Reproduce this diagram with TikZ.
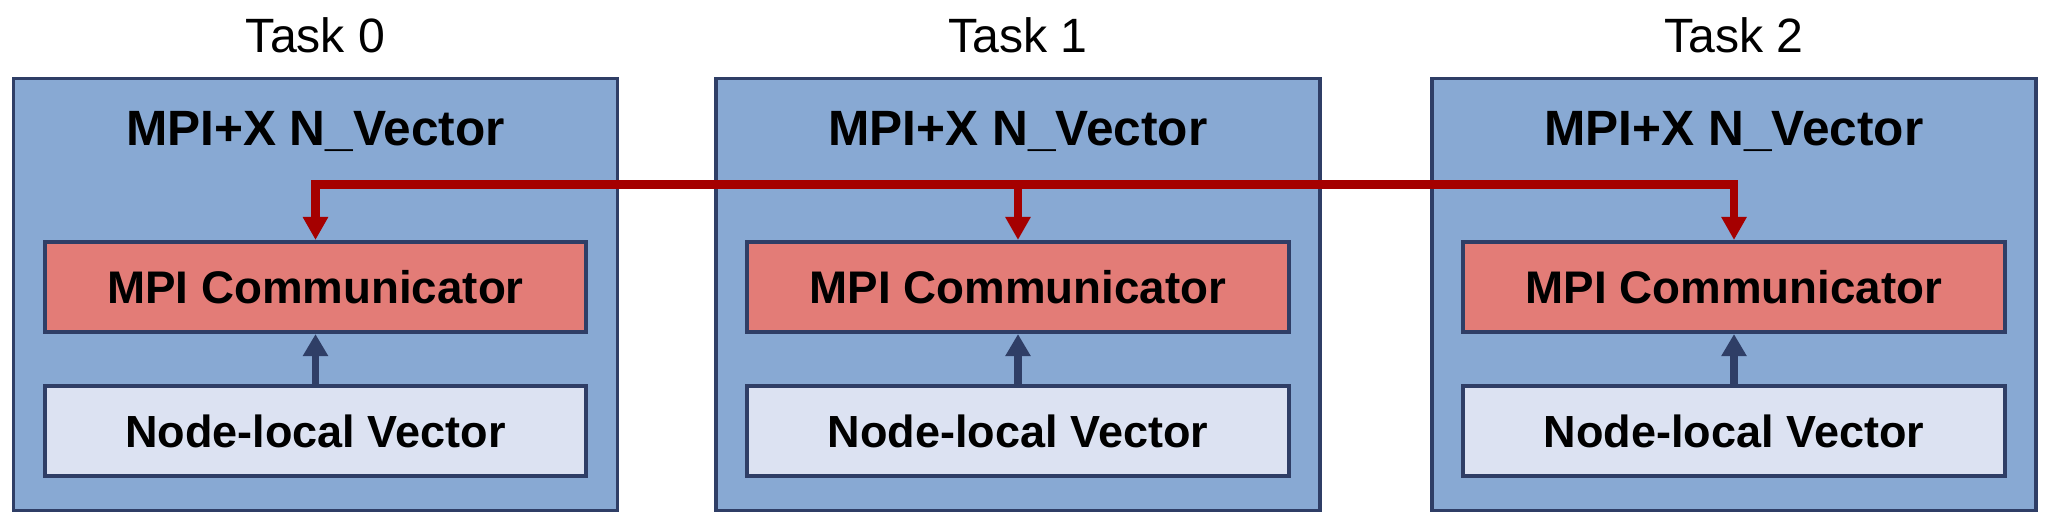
\documentclass[tikz,border=0pt]{standalone}
\usepackage{fontspec}
\setmainfont{Liberation Sans}
\usetikzlibrary{positioning}
\usetikzlibrary{arrows.meta}

\definecolor{taskblue}{HTML}{88A9D3}
\definecolor{navyline}{HTML}{2F3E66}
\definecolor{commred}{HTML}{E37C77}
\definecolor{localpale}{HTML}{DCE2F2}
\definecolor{busred}{HTML}{A50000}

\tikzset{
    taskbox/.style={draw=navyline, fill=taskblue, line width=1pt, minimum width=6.04cm, minimum height=4.32cm, inner sep=0pt},
    commbox/.style={draw=navyline, fill=commred, line width=1.15pt, minimum width=5.41cm, minimum height=0.9cm, inner sep=0pt, font=\fontsize{13}{15}\selectfont\bfseries},
    localbox/.style={draw=navyline, fill=localpale, line width=1.15pt, minimum width=5.41cm, minimum height=0.9cm, inner sep=0pt, font=\fontsize{12.8}{15}\selectfont\bfseries},
    tasklabel/.style={anchor=base, inner sep=0pt, font=\fontsize{13.7}{16}\selectfont},
    vectitle/.style={anchor=base, inner sep=0pt, font=\fontsize{14.1}{16}\selectfont\bfseries},
    bus/.style={draw=busred, line width=2.3pt},
    buildup/.style={draw=navyline, line width=2.2pt, -{Triangle[width=0.24cm,length=0.22cm]}}
}

\begin{document}
\begin{tikzpicture}[x=0.01cm, y=-0.01cm]
    \useasboundingbox (0,0) rectangle (2045,524);

    % the three tasks
    \node[taskbox] (task0) at (315.5,294.5) {};
    \node[taskbox] (task1) at (1018,294.5) {};
    \node[taskbox] (task2) at (1734,294.5) {};

    \node[tasklabel] (lab0) at (315.5,52) {Task 0};
    \node[tasklabel] (lab1) at (1018,52) {Task 1};
    \node[tasklabel] (lab2) at (1734,52) {Task 2};

    \node[vectitle] (vec0) at (315.5,145) {MPI+X N\_Vector};
    \node[vectitle] (vec1) at (1018,145) {MPI+X N\_Vector};
    \node[vectitle] (vec2) at (1734,145) {MPI+X N\_Vector};

    \node[commbox] (comm0) at (315.5,287) {MPI Communicator};
    \node[commbox] (comm1) at (1018,287) {MPI Communicator};
    \node[commbox] (comm2) at (1734,287) {MPI Communicator};

    \node[localbox] (local0) at (315.5,431) {Node-local Vector};
    \node[localbox] (local1) at (1018,431) {Node-local Vector};
    \node[localbox] (local2) at (1734,431) {Node-local Vector};

    % local vector feeds the communicator
    \draw[buildup] (local0.north) -- (comm0.south);
    \draw[buildup] (local1.north) -- (comm1.south);
    \draw[buildup] (local2.north) -- (comm2.south);

    % red bus between the communicators
    \coordinate (bus) at (0,184.5);
    \draw[bus, {Triangle[width=0.24cm,length=0.23cm]}-{Triangle[width=0.24cm,length=0.23cm]}]
        (comm0.north) -- (comm0.north |- bus) -- (comm2.north |- bus) -- (comm2.north);
    \draw[bus, -{Triangle[width=0.24cm,length=0.23cm]}] (comm1.north |- bus) -- (comm1.north);
\end{tikzpicture}
\end{document}
